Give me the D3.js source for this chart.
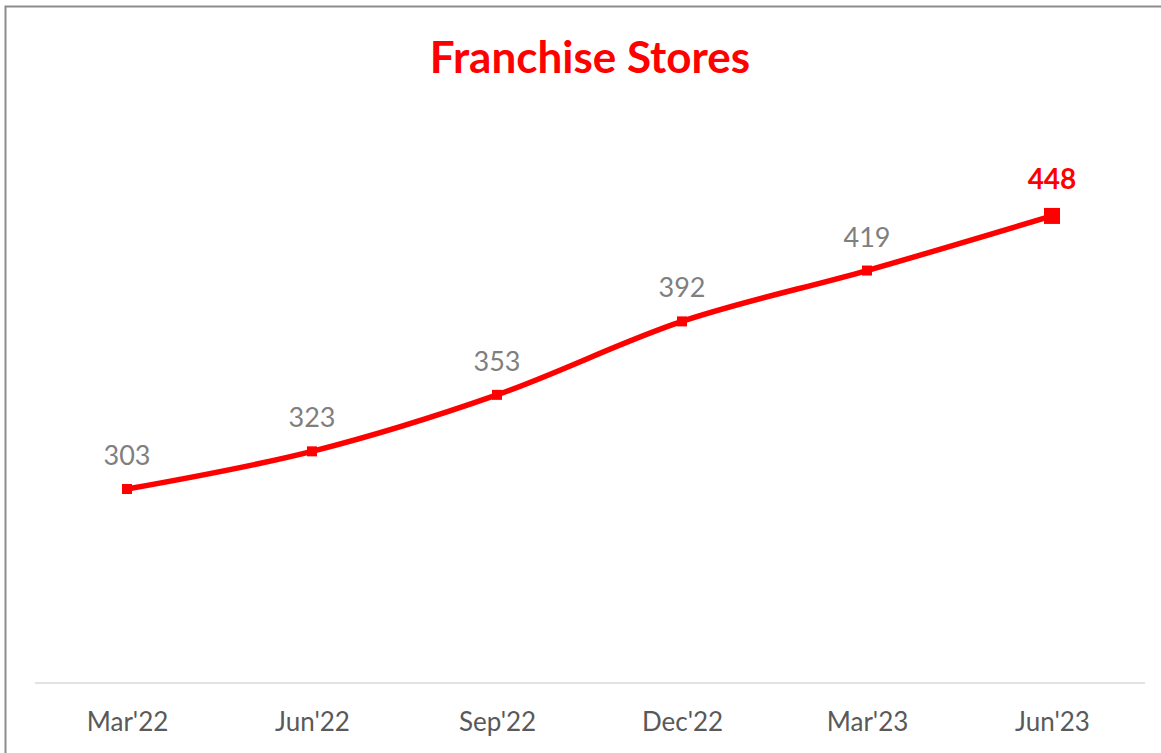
<!DOCTYPE html>
<html>
<head>
<meta charset="utf-8">
<script src="https://cdn.jsdelivr.net/npm/d3@7"></script>
<style>
  body { margin: 0; background: #fff; }
  svg { display: block; }
</style>
</head>
<body>
<div id="chart"></div>
<script>
var quarters = ["Mar'22", "Jun'22", "Sep'22", "Dec'22", "Mar'23", "Jun'23"];
var stores = [303, 323, 353, 392, 419, 448];

var width = 1161, height = 753;
var font = "Lato, 'Noto Sans', sans-serif";

var svg = d3.select("#chart").append("svg")
    .attr("width", width)
    .attr("height", height);

// chart frame
svg.append("rect")
    .attr("x", 5.5).attr("y", 6.5)
    .attr("width", width + 10).attr("height", height + 10)
    .attr("fill", "none")
    .attr("stroke", "#8c8c8c")
    .attr("stroke-width", 2);

svg.append("text")
    .attr("x", 590).attr("y", 73)
    .attr("text-anchor", "middle")
    .attr("font-family", font)
    .attr("font-weight", "bold")
    .attr("font-size", 44)
    .attr("fill", "#ff0000")
    .text("Franchise Stores");

var x = d3.scalePoint()
    .domain(quarters)
    .range([127, 1052]);

var y = d3.scaleLinear()
    .domain([200, 500])
    .range([683, 118]);

// baseline
svg.append("line")
    .attr("x1", 35).attr("x2", 1145)
    .attr("y1", y(200)).attr("y2", y(200))
    .attr("stroke", "#d9d9d9")
    .attr("stroke-width", 1.5);

var xAxis = d3.axisBottom(x).tickSize(0).tickPadding(0);
var gx = svg.append("g")
    .attr("transform", "translate(0," + y(200) + ")")
    .call(xAxis);
gx.select(".domain").remove();
gx.selectAll("text")
    .attr("dy", null)
    .attr("y", 48)
    .attr("font-family", font)
    .attr("font-size", 26)
    .attr("fill", "#595959");

var line = d3.line()
    .x(function(d, i) { return x(quarters[i]); })
    .y(function(d) { return y(d); })
    .curve(d3.curveCatmullRom.alpha(0.5));

svg.append("path")
    .datum(stores)
    .attr("d", line)
    .attr("fill", "none")
    .attr("stroke", "#ff0000")
    .attr("stroke-width", 5.5);

var last = stores.length - 1;

svg.selectAll("rect.marker")
    .data(stores)
    .enter()
    .append("rect")
    .attr("class", "marker")
    .attr("x", function(d, i) { var s = i == last ? 16 : 10; return x(quarters[i]) - s / 2; })
    .attr("y", function(d, i) { var s = i == last ? 16 : 10; return y(d) - s / 2; })
    .attr("width", function(d, i) { return i == last ? 16 : 10; })
    .attr("height", function(d, i) { return i == last ? 16 : 10; })
    .attr("fill", "#ff0000");

svg.selectAll("text.label")
    .data(stores)
    .enter()
    .append("text")
    .attr("class", "label")
    .attr("x", function(d, i) { return x(quarters[i]); })
    .attr("y", function(d, i) { return y(d) - (i == last ? 27 : 24); })
    .attr("text-anchor", "middle")
    .attr("font-family", font)
    .attr("font-size", function(d, i) { return i == last ? 28 : 27; })
    .attr("font-weight", function(d, i) { return i == last ? "bold" : "normal"; })
    .attr("fill", function(d, i) { return i == last ? "#ff0000" : "#7f7f7f"; })
    .text(function(d) { return d; });
</script>
</body>
</html>
